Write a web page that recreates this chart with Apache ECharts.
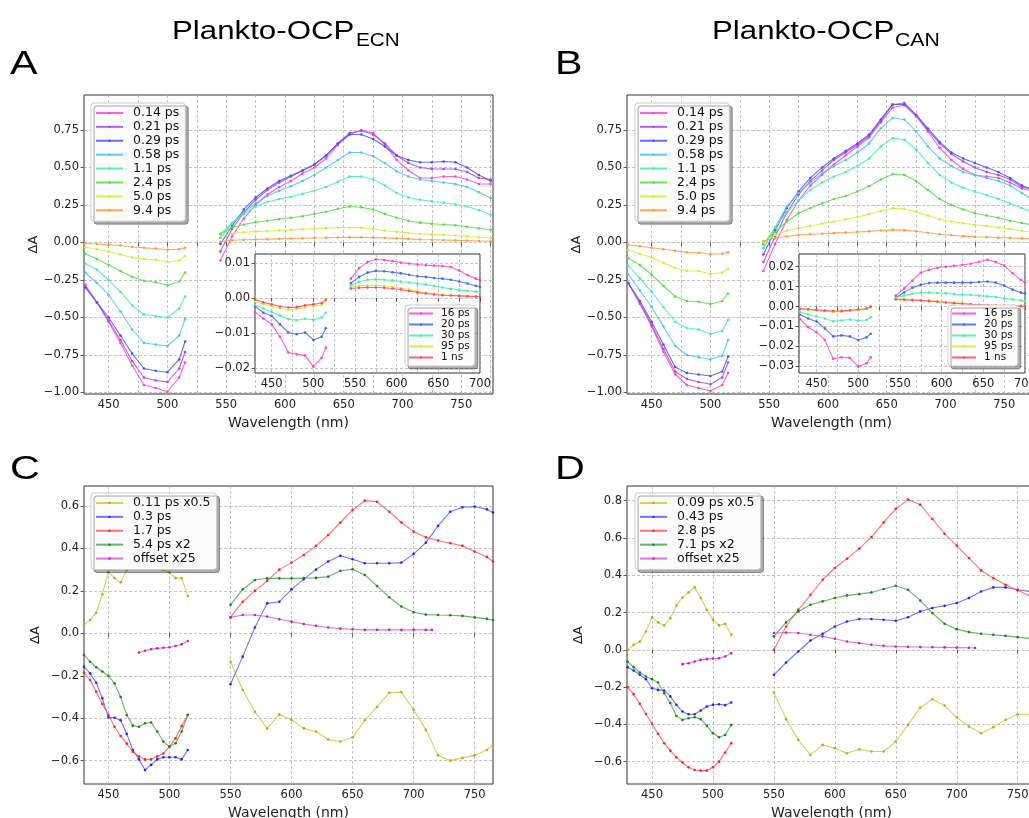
<!DOCTYPE html>
<html>
<head>
<meta charset="utf-8">
<script src="https://cdn.jsdelivr.net/npm/echarts@6/dist/echarts.min.js"></script>
<style>
  html, body { margin: 0; padding: 0; background: #fff; }
  #chart { width: 1029px; height: 818px; }
</style>
</head>
<body>
<div id="chart"></div>
<script>
// wavelengths (nm)
var wlLeft10 = [430, 440, 450, 460, 470, 480, 490, 500, 510, 515];
var wlRight10 = [545, 555, 565, 575, 585, 595, 605, 615, 625, 635, 645, 655, 665, 675, 685, 695, 705, 715, 725, 735, 745, 755, 765, 775];
var wlInsetRight = [545, 555, 565, 575, 585, 595, 605, 615, 625, 635, 645, 655, 665, 675, 685, 695, 700];
var wlLeft5 = [430, 435, 440, 445, 450, 455, 460, 465, 470, 475, 480, 485, 490, 495, 500, 505, 510, 515];
var wlRightCD = [550, 560, 570, 580, 590, 600, 610, 620, 630, 640, 650, 660, 670, 680, 690, 700, 710, 720, 730, 740, 750, 760, 765];
var wlOffLeft = [475, 480, 485, 490, 495, 500, 505, 510, 515];
var wlOffRight = [550, 560, 570, 580, 590, 600, 610, 620, 630, 640, 650, 660, 670, 680, 690, 700, 710, 715];

// legend names
var abNames = ['0.14 ps', '0.21 ps', '0.29 ps', '0.58 ps', '1.1 ps', '2.4 ps', '5.0 ps', '9.4 ps'];
var insetNames = ['16 ps', '20 ps', '30 ps', '95 ps', '1 ns'];
var cNames = ['0.11 ps x0.5', '0.3 ps', '1.7 ps', '5.4 ps x2', 'offset x25'];
var dNames = ['0.09 ps x0.5', '0.43 ps', '2.8 ps', '7.1 ps x2', 'offset x25'];

// tick values
var ticks25 = [450, 475, 500, 525, 550, 575, 600, 625, 650, 675, 700, 725, 750, 775];
var labels50 = [450, 500, 550, 600, 650, 700, 750];
var insetTicks = [450, 475, 500, 525, 550, 575, 600, 625, 650, 675, 700];
var insetLabels = [450, 500, 550, 600, 650, 700];
var abYTicks = [-1, -0.75, -0.5, -0.25, 0, 0.25, 0.5, 0.75];
var insetAYTicks = [-0.02, -0.01, 0, 0.01];
var insetBYTicks = [-0.03, -0.02, -0.01, 0, 0.01, 0.02];
var cYTicks = [-0.6, -0.4, -0.2, 0, 0.2, 0.4, 0.6];
var dYTicks = [-0.6, -0.4, -0.2, 0, 0.2, 0.4, 0.6, 0.8];

// A: Plankto-OCP ECN
var a014L = [-0.28, -0.4, -0.53, -0.67, -0.82, -0.95, -0.97, -0.995, -0.9, -0.8];
var a021L = [-0.29, -0.4, -0.52, -0.65, -0.79, -0.9, -0.92, -0.93, -0.84, -0.73];
var a029L = [-0.3, -0.4, -0.5, -0.62, -0.74, -0.84, -0.855, -0.865, -0.78, -0.66];
var a058L = [-0.2, -0.27, -0.35, -0.46, -0.58, -0.67, -0.68, -0.69, -0.62, -0.51];
var a11L = [-0.14, -0.18, -0.25, -0.33, -0.42, -0.48, -0.49, -0.5, -0.44, -0.36];
var a24L = [-0.075, -0.11, -0.15, -0.19, -0.23, -0.255, -0.265, -0.285, -0.26, -0.2];
var a50L = [-0.03, -0.045, -0.06, -0.08, -0.1, -0.11, -0.115, -0.13, -0.12, -0.09];
var a94L = [-0.005, -0.01, -0.015, -0.02, -0.03, -0.035, -0.04, -0.048, -0.045, -0.035];
var a014R = [-0.12, 0.04, 0.16, 0.25, 0.32, 0.37, 0.41, 0.46, 0.5, 0.56, 0.65, 0.72, 0.75, 0.73, 0.65, 0.55, 0.48, 0.43, 0.43, 0.44, 0.44, 0.42, 0.39, 0.39];
var a021R = [-0.06, 0.09, 0.2, 0.285, 0.35, 0.4, 0.44, 0.48, 0.52, 0.58, 0.66, 0.73, 0.745, 0.72, 0.66, 0.58, 0.53, 0.5, 0.49, 0.49, 0.49, 0.47, 0.43, 0.42];
var a029R = [-0.01, 0.11, 0.22, 0.3, 0.36, 0.41, 0.445, 0.48, 0.52, 0.58, 0.66, 0.72, 0.72, 0.69, 0.64, 0.58, 0.55, 0.535, 0.535, 0.54, 0.535, 0.5, 0.45, 0.41];
var a058R = [0.03, 0.13, 0.2, 0.26, 0.31, 0.345, 0.375, 0.41, 0.45, 0.5, 0.55, 0.6, 0.6, 0.575, 0.53, 0.475, 0.44, 0.42, 0.41, 0.4, 0.39, 0.37, 0.335, 0.295];
var a11R = [0.055, 0.13, 0.19, 0.24, 0.27, 0.29, 0.305, 0.325, 0.345, 0.37, 0.405, 0.44, 0.44, 0.42, 0.38, 0.33, 0.3, 0.285, 0.275, 0.265, 0.255, 0.24, 0.215, 0.185];
var a24R = [0.058, 0.1, 0.12, 0.135, 0.145, 0.155, 0.165, 0.175, 0.19, 0.205, 0.225, 0.24, 0.235, 0.22, 0.19, 0.165, 0.145, 0.132, 0.125, 0.12, 0.115, 0.105, 0.095, 0.085];
var a50R = [0.04, 0.06, 0.068, 0.072, 0.076, 0.08, 0.084, 0.088, 0.092, 0.096, 0.1, 0.1, 0.098, 0.09, 0.08, 0.072, 0.064, 0.058, 0.054, 0.05, 0.046, 0.04, 0.035, 0.03];
var a94R = [0.005, 0.015, 0.018, 0.02, 0.022, 0.024, 0.026, 0.028, 0.03, 0.031, 0.033, 0.034, 0.034, 0.032, 0.03, 0.027, 0.024, 0.02, 0.018, 0.016, 0.014, 0.012, 0.01, 0.008];

// A inset (long delays)
var ia16L = [-0.004, -0.0058, -0.0075, -0.011, -0.0155, -0.016, -0.0163, -0.0195, -0.017, -0.0141];
var ia20L = [-0.0023, -0.0042, -0.0051, -0.0075, -0.0098, -0.0103, -0.0098, -0.0119, -0.011, -0.0086];
var ia30L = [-0.002, -0.003, -0.004, -0.005, -0.006, -0.0063, -0.0059, -0.0062, -0.0055, -0.0042];
var ia95L = [-0.001, -0.0017, -0.0023, -0.003, -0.0034, -0.0031, -0.0027, -0.0024, -0.002, -0.0009];
var ia1nL = [-0.0005, -0.0012, -0.0018, -0.0024, -0.0027, -0.0026, -0.0021, -0.0018, -0.0014, -0.0005];
var ia16R = [0.0055, 0.0085, 0.0102, 0.011, 0.0108, 0.0105, 0.0101, 0.0098, 0.0095, 0.0093, 0.0092, 0.0091, 0.0088, 0.0078, 0.0065, 0.0055, 0.005];
var ia20R = [0.0042, 0.006, 0.0072, 0.0077, 0.0076, 0.0073, 0.007, 0.0066, 0.0062, 0.006, 0.0057, 0.0055, 0.0052, 0.0047, 0.0041, 0.0035, 0.0032];
var ia30R = [0.0036, 0.0046, 0.0052, 0.0053, 0.0052, 0.005, 0.0047, 0.0044, 0.0041, 0.0038, 0.0034, 0.003, 0.0026, 0.0023, 0.002, 0.0018, 0.0017];
var ia95R = [0.003, 0.0034, 0.0036, 0.0036, 0.0035, 0.0032, 0.0028, 0.0024, 0.0019, 0.0015, 0.0012, 0.001, 0.0008, 0.0007, 0.0006, 0.0005, 0.0004];
var ia1nR = [0.0027, 0.0029, 0.003, 0.003, 0.0029, 0.0027, 0.0024, 0.002, 0.0016, 0.0013, 0.001, 0.0008, 0.0007, 0.0006, 0.0005, 0.0004, 0.0004];

// B: Plankto-OCP CAN
var b014L = [-0.27, -0.41, -0.56, -0.73, -0.88, -0.95, -0.97, -0.99, -0.95, -0.87];
var b021L = [-0.27, -0.4, -0.55, -0.71, -0.86, -0.91, -0.93, -0.945, -0.9, -0.8];
var b029L = [-0.27, -0.39, -0.53, -0.68, -0.83, -0.87, -0.88, -0.89, -0.86, -0.76];
var b058L = [-0.21, -0.32, -0.43, -0.56, -0.69, -0.75, -0.765, -0.78, -0.755, -0.65];
var b11L = [-0.155, -0.24, -0.33, -0.43, -0.53, -0.57, -0.58, -0.61, -0.59, -0.515];
var b24L = [-0.105, -0.15, -0.215, -0.29, -0.36, -0.39, -0.395, -0.41, -0.39, -0.34];
var b50L = [-0.05, -0.075, -0.1, -0.135, -0.17, -0.19, -0.19, -0.21, -0.2, -0.175];
var b94L = [-0.015, -0.025, -0.035, -0.045, -0.055, -0.065, -0.068, -0.078, -0.075, -0.066];
var b014R = [-0.19, -0.01, 0.15, 0.28, 0.38, 0.45, 0.52, 0.58, 0.64, 0.7, 0.8, 0.9, 0.915, 0.84, 0.74, 0.63, 0.55, 0.49, 0.45, 0.44, 0.43, 0.4, 0.36, 0.34];
var b021R = [-0.13, 0.04, 0.2, 0.32, 0.41, 0.48, 0.55, 0.6, 0.65, 0.71, 0.81, 0.92, 0.93, 0.85, 0.75, 0.66, 0.59, 0.54, 0.5, 0.47, 0.45, 0.42, 0.37, 0.35];
var b029R = [-0.08, 0.08, 0.23, 0.34, 0.43, 0.5, 0.56, 0.61, 0.66, 0.72, 0.82, 0.92, 0.92, 0.85, 0.76, 0.67, 0.6, 0.56, 0.53, 0.5, 0.47, 0.43, 0.38, 0.35];
var b058R = [-0.04, 0.1, 0.24, 0.33, 0.4, 0.46, 0.51, 0.55, 0.6, 0.66, 0.76, 0.83, 0.82, 0.74, 0.64, 0.56, 0.51, 0.47, 0.45, 0.43, 0.41, 0.38, 0.33, 0.28];
var b11R = [-0.015, 0.1, 0.2, 0.28, 0.35, 0.4, 0.44, 0.47, 0.51, 0.56, 0.64, 0.695, 0.685, 0.62, 0.53, 0.45, 0.4, 0.365, 0.34, 0.315, 0.29, 0.26, 0.23, 0.2];
var b24R = [-0.005, 0.07, 0.14, 0.195, 0.23, 0.26, 0.29, 0.31, 0.34, 0.375, 0.42, 0.455, 0.45, 0.41, 0.35, 0.29, 0.25, 0.22, 0.195, 0.18, 0.165, 0.145, 0.13, 0.115];
var b50R = [0.0, 0.05, 0.08, 0.095, 0.11, 0.125, 0.14, 0.155, 0.17, 0.19, 0.21, 0.228, 0.225, 0.205, 0.18, 0.155, 0.14, 0.128, 0.118, 0.11, 0.1, 0.09, 0.078, 0.065];
var b94R = [0.01, 0.03, 0.04, 0.05, 0.055, 0.058, 0.062, 0.066, 0.07, 0.074, 0.08, 0.084, 0.082, 0.075, 0.065, 0.055, 0.048, 0.042, 0.038, 0.035, 0.032, 0.03, 0.027, 0.024];

// B inset
var ib16L = [-0.0062, -0.0104, -0.0129, -0.0168, -0.0263, -0.0255, -0.0258, -0.0302, -0.0285, -0.0255];
var ib20L = [-0.004, -0.006, -0.0075, -0.011, -0.015, -0.0145, -0.015, -0.0168, -0.0155, -0.0137];
var ib30L = [-0.0028, -0.004, -0.005, -0.006, -0.0074, -0.007, -0.0065, -0.007, -0.0068, -0.0054];
var ib95L = [-0.0013, -0.0016, -0.002, -0.0024, -0.0027, -0.0026, -0.0023, -0.0019, -0.0013, -0.0005];
var ib1nL = [-0.0012, -0.0014, -0.0017, -0.002, -0.0023, -0.0022, -0.0019, -0.0015, -0.001, 0];
var ib16R = [0.0055, 0.009, 0.013, 0.017, 0.0185, 0.0195, 0.02, 0.0205, 0.021, 0.0215, 0.0225, 0.0235, 0.0223, 0.0206, 0.0168, 0.0134, 0.0122];
var ib20R = [0.0045, 0.007, 0.0095, 0.011, 0.0118, 0.012, 0.012, 0.012, 0.012, 0.012, 0.0123, 0.0126, 0.012, 0.0105, 0.0085, 0.007, 0.0065];
var ib30R = [0.0044, 0.0055, 0.0065, 0.0069, 0.007, 0.0068, 0.0066, 0.0063, 0.006, 0.0058, 0.0055, 0.0052, 0.0048, 0.0042, 0.0036, 0.003, 0.0027];
var ib95R = [0.0039, 0.0037, 0.0035, 0.0033, 0.003, 0.0027, 0.0023, 0.002, 0.0016, 0.0013, 0.001, 0.0008, 0.0006, 0.0004, 0.0003, 0.0002, 0.0002];
var ib1nR = [0.0035, 0.0034, 0.0032, 0.003, 0.0027, 0.0024, 0.002, 0.0017, 0.0014, 0.0011, 0.0009, 0.0007, 0.0005, 0.0004, 0.0003, 0.0002, 0.0001];

// C: ECN decay-associated spectra
var cYelL = [0.04, 0.063, 0.097, 0.184, 0.288, 0.26, 0.24, 0.3, 0.34, 0.36, 0.37, 0.36, 0.33, 0.3, 0.286, 0.26, 0.26, 0.176];
var cBluL = [-0.157, -0.189, -0.233, -0.306, -0.396, -0.398, -0.41, -0.474, -0.55, -0.594, -0.644, -0.62, -0.594, -0.584, -0.584, -0.584, -0.594, -0.55];
var cRedL = [-0.185, -0.22, -0.275, -0.333, -0.385, -0.44, -0.484, -0.52, -0.558, -0.58, -0.594, -0.594, -0.58, -0.566, -0.534, -0.495, -0.437, -0.385];
var cGrnL = [-0.102, -0.134, -0.16, -0.18, -0.2, -0.236, -0.3, -0.385, -0.435, -0.44, -0.424, -0.42, -0.463, -0.51, -0.534, -0.518, -0.463, -0.385];
var cOffL = [-0.091, -0.082, -0.075, -0.071, -0.068, -0.066, -0.06, -0.052, -0.036];
var cYelR = [-0.134, -0.267, -0.37, -0.448, -0.382, -0.408, -0.448, -0.463, -0.5, -0.51, -0.49, -0.41, -0.347, -0.28, -0.277, -0.36, -0.455, -0.575, -0.6, -0.587, -0.575, -0.55, -0.527];
var cBluR = [-0.24, -0.11, 0.027, 0.141, 0.149, 0.207, 0.255, 0.3, 0.338, 0.365, 0.349, 0.33, 0.33, 0.33, 0.333, 0.374, 0.427, 0.506, 0.573, 0.594, 0.597, 0.584, 0.569];
var cRedR = [0.075, 0.149, 0.2, 0.247, 0.3, 0.333, 0.369, 0.412, 0.463, 0.522, 0.581, 0.625, 0.62, 0.573, 0.522, 0.479, 0.452, 0.437, 0.424, 0.412, 0.385, 0.36, 0.338];
var cGrnR = [0.134, 0.207, 0.251, 0.259, 0.259, 0.259, 0.26, 0.261, 0.267, 0.295, 0.302, 0.275, 0.223, 0.17, 0.126, 0.099, 0.088, 0.086, 0.085, 0.082, 0.075, 0.068, 0.063];
var cOffR = [0.075, 0.086, 0.086, 0.079, 0.066, 0.055, 0.044, 0.035, 0.027, 0.022, 0.019, 0.016, 0.016, 0.016, 0.016, 0.016, 0.016, 0.016];

// D: CAN decay-associated spectra
var dYelL = [0, 0.027, 0.045, 0.098, 0.174, 0.147, 0.131, 0.17, 0.238, 0.281, 0.308, 0.335, 0.278, 0.215, 0.161, 0.131, 0.14, 0.081];
var dBluL = [-0.093, -0.111, -0.134, -0.158, -0.206, -0.215, -0.218, -0.25, -0.295, -0.331, -0.346, -0.346, -0.326, -0.304, -0.295, -0.292, -0.297, -0.283];
var dRedL = [-0.2, -0.238, -0.29, -0.344, -0.397, -0.451, -0.501, -0.541, -0.577, -0.605, -0.63, -0.645, -0.648, -0.648, -0.63, -0.6, -0.551, -0.501];
var dGrnL = [-0.063, -0.093, -0.122, -0.143, -0.158, -0.175, -0.233, -0.286, -0.355, -0.376, -0.367, -0.362, -0.372, -0.408, -0.448, -0.469, -0.457, -0.403];
var dOffL = [-0.077, -0.072, -0.063, -0.054, -0.05, -0.047, -0.045, -0.036, -0.018];
var dYelR = [-0.229, -0.372, -0.483, -0.564, -0.51, -0.528, -0.555, -0.534, -0.546, -0.546, -0.492, -0.403, -0.31, -0.265, -0.299, -0.363, -0.412, -0.448, -0.415, -0.376, -0.346, -0.346, -0.346];
var dBluR = [-0.134, -0.068, -0.009, 0.05, 0.086, 0.125, 0.152, 0.165, 0.165, 0.161, 0.156, 0.175, 0.206, 0.224, 0.236, 0.251, 0.278, 0.313, 0.335, 0.335, 0.322, 0.313, 0.31];
var dRedR = [0, 0.125, 0.215, 0.295, 0.376, 0.439, 0.489, 0.543, 0.605, 0.684, 0.756, 0.806, 0.779, 0.702, 0.623, 0.559, 0.492, 0.426, 0.385, 0.349, 0.319, 0.29, 0.28];
var dGrnR = [0.072, 0.147, 0.206, 0.242, 0.26, 0.278, 0.292, 0.299, 0.308, 0.326, 0.344, 0.322, 0.265, 0.197, 0.14, 0.111, 0.095, 0.086, 0.081, 0.075, 0.068, 0.061, 0.058];
var dOffR = [0.09, 0.093, 0.09, 0.081, 0.072, 0.059, 0.045, 0.036, 0.027, 0.021, 0.018, 0.016, 0.015, 0.014, 0.013, 0.012, 0.011, 0.01];

var abColors = ['#ff44cc', '#aa44ee', '#4455ee', '#44c4ee', '#44eeaa', '#55dd44', '#d4ec30', '#ff9944'];
var insetColors = ['#ff44cc', '#4466ee', '#44eeaa', '#d4ec30', '#ff4466'];
var cdLine = ['#c8c84a', '#5a5aff', '#ff5a5a', '#4ca64c', '#d060d0'];
var cdDot = ['#b0b000', '#2020ff', '#ff2020', '#1a801a', '#c020c0'];

var FONT = 'DejaVu Sans';

function line(name, color, dot, xs, ys, idx, zl) {
  return {
    type: 'line', name: name, xAxisIndex: idx, yAxisIndex: idx, zlevel: zl || 0,
    data: xs.map(function (x, i) { return [x, ys[i]]; }),
    symbol: 'circle', symbolSize: 2.6, showAllSymbol: true,
    lineStyle: { color: color, width: 1.1, opacity: 0.85 },
    itemStyle: { color: dot },
    emphasis: { disabled: true }, silent: true, animation: false
  };
}

function pairSet(names, colors, xsL, lefts, xsR, rights, idx, zl) {
  var out = [];
  names.forEach(function (n, k) {
    out.push(line(n, colors[k], colors[k], xsL, lefts[k], idx, zl));
    out.push(line(n, colors[k], colors[k], xsR, rights[k], idx, zl));
  });
  return out;
}

function fmt(d) {
  return function (v) { return v.toFixed(d).replace('-', '\u2212'); };
}

function xAx(idx, min, max, ticks, labels, named, zl) {
  return {
    type: 'value', gridIndex: idx, min: min, max: max, zlevel: zl || 0,
    axisLine: { show: false },
    axisTick: { show: true, length: 3.5, customValues: ticks, lineStyle: { color: '#333', width: 0.8 } },
    axisLabel: { customValues: labels, margin: 5, fontSize: 11.5, fontFamily: FONT, color: '#222' },
    splitLine: { show: true, lineStyle: { color: '#b4b4b4', type: [3, 2], width: 0.8 } },
    name: named ? 'Wavelength (nm)' : '', nameLocation: 'middle', nameGap: 22,
    nameTextStyle: { fontSize: 14, fontFamily: FONT, color: '#222' }
  };
}

function yAx(idx, min, max, ticks, dec, named, zl) {
  return {
    type: 'value', gridIndex: idx, min: min, max: max, zlevel: zl || 0,
    axisLine: { show: false },
    axisTick: { show: true, length: 3.5, customValues: ticks, lineStyle: { color: '#333', width: 0.8 } },
    axisLabel: { customValues: ticks, margin: 5, fontSize: 11.5, fontFamily: FONT, color: '#222', formatter: fmt(dec) },
    splitLine: { show: true, lineStyle: { color: '#b4b4b4', type: [3, 2], width: 0.8 } },
    name: named ? '\u0394A' : '', nameLocation: 'middle', nameGap: 42,
    nameTextStyle: { fontSize: 13, fontFamily: FONT, color: '#222' }
  };
}

function legendAt(names, left, top, small) {
  return {
    data: names, orient: 'vertical', left: left, top: top, zlevel: small ? 1 : 0,
    itemWidth: small ? 24 : 27, itemHeight: 3, itemGap: 0,
    padding: small ? [3, 5, 3, 3] : [3, 6, 4, 4],
    textStyle: {
      fontSize: small ? 10.5 : 12.5, fontFamily: FONT, color: '#111',
      lineHeight: small ? 10.8 : 13.9, padding: [0, 0, 0, small ? 3 : 5]
    },
    backgroundColor: 'rgba(255,255,255,0.95)', borderColor: '#ccc', borderWidth: 1, borderRadius: 3,
    shadowColor: 'rgba(0,0,0,0.35)', shadowOffsetX: 3, shadowOffsetY: 3, shadowBlur: 0,
    selectedMode: false
  };
}

function gridAt(left, top, w, h, inset) {
  return {
    left: left, top: top, width: w, height: h, show: true, outerBoundsMode: 'none',
    borderColor: '#333', borderWidth: 1,
    backgroundColor: inset ? '#fff' : 'transparent', zlevel: inset ? 1 : 0
  };
}

var series = [];
series = series.concat(pairSet(abNames, abColors, wlLeft10,
  [a014L, a021L, a029L, a058L, a11L, a24L, a50L, a94L], wlRight10,
  [a014R, a021R, a029R, a058R, a11R, a24R, a50R, a94R], 0, 0));
series = series.concat(pairSet(insetNames, insetColors, wlLeft10,
  [ia16L, ia20L, ia30L, ia95L, ia1nL], wlInsetRight,
  [ia16R, ia20R, ia30R, ia95R, ia1nR], 1, 1));
series = series.concat(pairSet(abNames, abColors, wlLeft10,
  [b014L, b021L, b029L, b058L, b11L, b24L, b50L, b94L], wlRight10,
  [b014R, b021R, b029R, b058R, b11R, b24R, b50R, b94R], 2, 0));
series = series.concat(pairSet(insetNames, insetColors, wlLeft10,
  [ib16L, ib20L, ib30L, ib95L, ib1nL], wlInsetRight,
  [ib16R, ib20R, ib30R, ib95R, ib1nR], 3, 1));

var cLeft = [cYelL, cBluL, cRedL, cGrnL], cRight = [cYelR, cBluR, cRedR, cGrnR];
var dLeft = [dYelL, dBluL, dRedL, dGrnL], dRight = [dYelR, dBluR, dRedR, dGrnR];
for (var k = 0; k < 4; k++) {
  series.push(line(cNames[k], cdLine[k], cdDot[k], wlLeft5, cLeft[k], 4));
  series.push(line(cNames[k], cdLine[k], cdDot[k], wlRightCD, cRight[k], 4));
  series.push(line(dNames[k], cdLine[k], cdDot[k], wlLeft5, dLeft[k], 5));
  series.push(line(dNames[k], cdLine[k], cdDot[k], wlRightCD, dRight[k], 5));
}
series.push(line(cNames[4], cdLine[4], cdDot[4], wlOffLeft, cOffL, 4));
series.push(line(cNames[4], cdLine[4], cdDot[4], wlOffRight, cOffR, 4));
series.push(line(dNames[4], cdLine[4], cdDot[4], wlOffLeft, dOffL, 5));
series.push(line(dNames[4], cdLine[4], cdDot[4], wlOffRight, dOffR, 5));

function bigText(str, x, y, size, sx) {
  return {
    type: 'text', x: x, y: y, scaleX: sx, silent: true,
    style: { text: str, fontSize: size, fontFamily: 'Liberation Sans', fill: '#000', align: 'left', verticalAlign: 'middle' }
  };
}

var option = {
  animation: false,
  backgroundColor: '#fff',
  grid: [
    gridAt(84, 95, 409, 299, false),
    gridAt(255, 254, 225, 119, true),
    gridAt(627, 95, 409, 299, false),
    gridAt(799, 254, 226, 119, true),
    gridAt(84, 486, 409, 298, false),
    gridAt(627, 486, 409, 298, false)
  ],
  xAxis: [
    xAx(0, 429, 777, ticks25, labels50, true),
    xAx(1, 430, 700, insetTicks, insetLabels, false, 1),
    xAx(2, 429, 777, ticks25, labels50, true),
    xAx(3, 429, 700, insetTicks, insetLabels, false, 1),
    xAx(4, 430, 765, labels50, labels50, true),
    xAx(5, 429.5, 765, labels50, labels50, true)
  ],
  yAxis: [
    yAx(0, -1.01, 0.983, abYTicks, 2, true),
    yAx(1, -0.0213, 0.0125, insetAYTicks, 2, false, 1),
    yAx(2, -1.01, 0.983, abYTicks, 2, true),
    yAx(3, -0.0334, 0.0264, insetBYTicks, 2, false, 1),
    yAx(4, -0.71, 0.694, cYTicks, 1, true),
    yAx(5, -0.72, 0.879, dYTicks, 1, true)
  ],
  legend: [
    legendAt(abNames, 91, 103, false),
    legendAt(insetNames, 405, 305, true),
    legendAt(abNames, 635, 103, false),
    legendAt(insetNames, 948, 305, true),
    legendAt(cNames, 91, 493, false),
    legendAt(dNames, 635, 493, false)
  ],
  graphic: [
    bigText('Plankto-OCP', 172, 32, 25, 1.25),
    bigText('ECN', 356, 41, 18, 1.15),
    bigText('Plankto-OCP', 712, 32, 25, 1.25),
    bigText('CAN', 895, 41, 18, 1.18),
    bigText('A', 10, 65, 33, 1.25),
    bigText('B', 555, 65, 33, 1.25),
    bigText('C', 10, 470, 33, 1.25),
    bigText('D', 555, 470, 33, 1.25)
  ],
  series: series
};

var myChart = echarts.init(document.getElementById('chart'));
myChart.setOption(option);
</script>
</body>
</html>
